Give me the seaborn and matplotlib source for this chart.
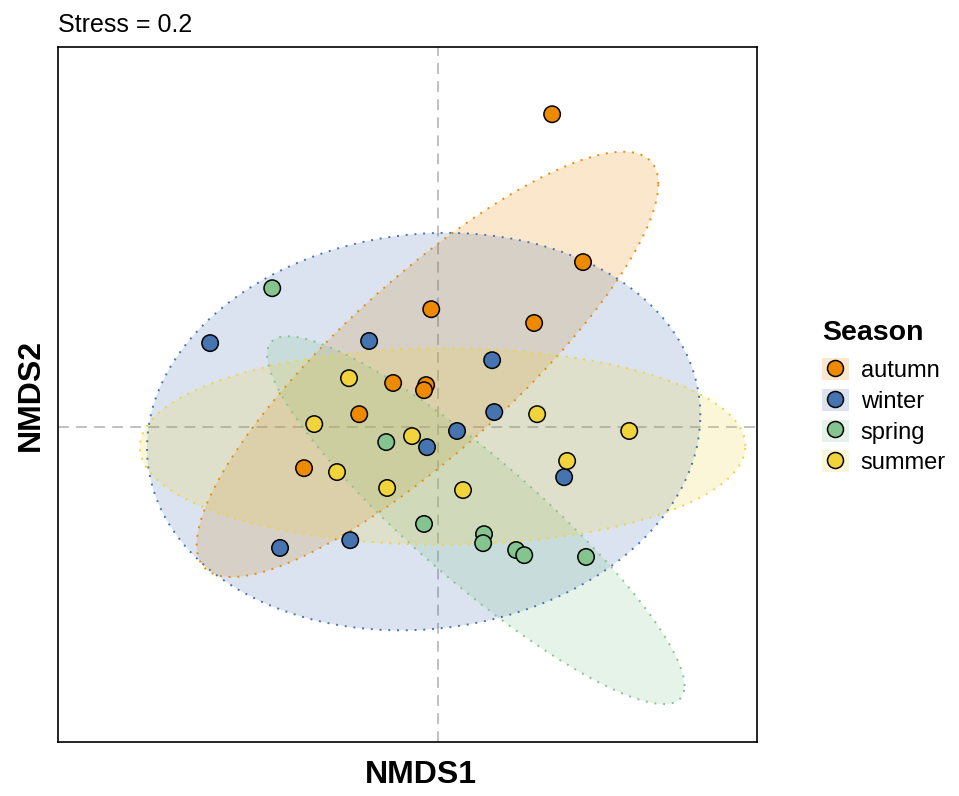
import numpy as np
import pandas as pd
import matplotlib
matplotlib.use("Agg")
import matplotlib.pyplot as plt
from matplotlib.patches import Polygon, Patch
from matplotlib.lines import Line2D
import seaborn as sns

# NMDS site scores, grouped by season
autumn_x = [0.380, 0.483, -0.023, 0.320, -0.150, -0.040, -0.047, -0.263, -0.447]
autumn_y = [1.043, 0.550, 0.393, 0.347, 0.147, 0.140, 0.123, 0.043, -0.137]
winter_x = [-0.760, -0.230, 0.180, 0.187, 0.063, -0.037, 0.420, -0.527, -0.293]
winter_y = [0.280, 0.287, 0.223, 0.050, -0.013, -0.067, -0.167, -0.403, -0.377]
spring_x = [-0.553, -0.173, -0.047, 0.153, 0.150, 0.260, 0.287, 0.493]
spring_y = [0.463, -0.050, -0.323, -0.357, -0.387, -0.410, -0.427, -0.433]
summer_x = [-0.297, -0.413, -0.087, -0.337, -0.170, 0.083, 0.330, 0.637, 0.430]
summer_y = [0.163, 0.010, -0.030, -0.150, -0.203, -0.210, 0.043, -0.013, -0.113]

seasons = ["autumn", "winter", "spring", "summer"]
colors = ["#EE8A00", "#4674B0", "#84C48E", "#F1D43C"]
stress = 0.2

frames = []
for name, xs, ys in [("autumn", autumn_x, autumn_y), ("winter", winter_x, winter_y),
                     ("spring", spring_x, spring_y), ("summer", summer_x, summer_y)]:
    frames.append(pd.DataFrame({"NMDS1": xs, "NMDS2": ys, "Season": name}))
df = pd.concat(frames, ignore_index=True)
palette = dict(zip(seasons, colors))


def cov_trob(x, nu=5, maxit=25, tol=0.01):
    """Multivariate t robust location / scatter estimate."""
    n, p = x.shape
    wt = np.ones(n)
    loc = x.mean(axis=0)
    w = np.sqrt(wt)
    X = x - loc
    for _ in range(maxit):
        w0 = w
        X = x - loc
        _, d, vt = np.linalg.svd(np.sqrt(w / w.sum())[:, None] * X, full_matrices=False)
        wX = X @ vt.T @ np.diag(1.0 / d)
        Q = (wX ** 2).sum(axis=1)
        w = (wt * (nu + p)) / (nu + Q)
        loc = (w[:, None] * x).sum(axis=0) / w.sum()
        if np.all(np.abs(w - w0) < tol):
            break
    sX = np.sqrt(w)[:, None] * X
    cov = sX.T @ sX / wt.sum()
    return loc, cov


def t_ellipse(x, level=0.95, segments=120):
    n = x.shape[0]
    dfd = n - 1
    # F(2, dfd) quantile has a closed form
    fq = (dfd / 2.0) * ((1.0 - level) ** (-2.0 / dfd) - 1.0)
    radius = np.sqrt(2.0 * fq)
    center, shape = cov_trob(x)
    chol_upper = np.linalg.cholesky(shape).T
    ang = np.linspace(0, 2 * np.pi, segments + 1)
    circle = np.column_stack([np.cos(ang), np.sin(ang)])
    return center + radius * (circle @ chol_upper)


plt.rcParams["font.family"] = ["Liberation Sans", "DejaVu Sans"]
fig = plt.figure(figsize=(9.59, 7.96), dpi=100)
ax = fig.add_axes([0.0605, 0.0678, 0.7289, 0.8731])

ax.axhline(0, color="#BBBBBB", lw=1.3, ls=(0, (6, 4)), zorder=1)
ax.axvline(0, color="#BBBBBB", lw=1.3, ls=(0, (6, 4)), zorder=1)

for s, c in zip(seasons, colors):
    pts = df.loc[df["Season"] == s, ["NMDS1", "NMDS2"]].to_numpy()
    ell = t_ellipse(pts)
    ax.add_patch(Polygon(ell, closed=True, facecolor=c, alpha=0.2, edgecolor="none", zorder=2))
    ax.plot(ell[:, 0], ell[:, 1], color=c, lw=1.4, ls=(0, (1, 3.5)), zorder=3)

sns.scatterplot(data=df, x="NMDS1", y="NMDS2", hue="Season", hue_order=seasons,
                palette=palette, s=140, edgecolor="black", linewidth=1.1,
                alpha=1, legend=False, ax=ax, zorder=4)

ax.set_xlim(-1.267, 1.063)
ax.set_ylim(-1.050, 1.267)
ax.set_xticks([])
ax.set_yticks([])
for sp in ax.spines.values():
    sp.set_color("black")
    sp.set_linewidth(1.2)
ax.set_xlabel("NMDS1", fontsize=23, fontweight="bold", labelpad=14)
ax.xaxis.set_label_coords(0.519, -0.026, transform=ax.transAxes)
ax.xaxis.label.set_va("top")
ax.set_ylabel("NMDS2", fontsize=23, fontweight="bold", labelpad=12)
ax.yaxis.set_label_coords(-0.0393, 0.5, transform=ax.transAxes)
ax.yaxis.label.set_va("center")
ax.set_title(f"Stress = {stress:g}", loc="left", fontsize=18, pad=11, x=0.0)

handles = []
for c in colors:
    bg = Patch(facecolor=c, alpha=0.2, edgecolor="none")
    mk = Line2D([], [], marker="o", ls="none", markersize=11.5,
                markerfacecolor=c, markeredgecolor="black", markeredgewidth=1.1)
    handles.append((bg, mk))
leg = fig.legend(handles, seasons, title="Season", loc="upper left",
                 bbox_to_anchor=(0.857, 0.598), frameon=False, fontsize=17,
                 title_fontproperties={"weight": "bold", "size": 20.5},
                 handlelength=1.15, handleheight=1.05, handletextpad=0.5,
                 labelspacing=0.28, borderaxespad=0, borderpad=0)
leg._legend_box.align = "left"
leg._legend_box.sep = 9

fig.savefig("out.png", dpi=100)
